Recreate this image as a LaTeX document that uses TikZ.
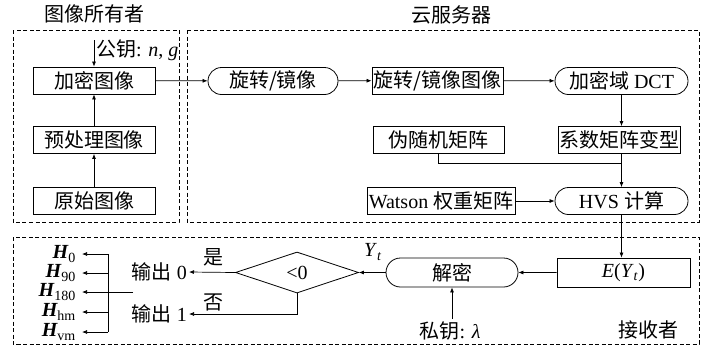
\documentclass[tikz,border=0pt]{standalone}
\usepackage{fontspec}
\setmainfont{Liberation Serif}
\newfontfamily\cjk{Noto Sans CJK SC}
\usetikzlibrary{arrows.meta,shapes.geometric,shapes.misc}
\begin{document}
\begin{tikzpicture}[x=1pt,y=-1pt,
  box/.style={draw, line width=0.8pt, minimum height=27pt, inner sep=0pt, font=\fontsize{20}{22}\selectfont},
  rbox/.style={box, rounded rectangle},
  dbox/.style={draw, dash pattern=on 4pt off 2.5pt, line width=0.7pt},
  arr/.style={-{Latex[length=5pt,width=4pt]}, line width=0.7pt},
  ln/.style={line width=0.7pt},
  lbl/.style={font=\fontsize{20}{22}\selectfont, inner sep=0pt},
  hl/.style={font=\fontsize{20}{22}\selectfont, inner sep=0pt, anchor=east}]
\useasboundingbox (0,0) rectangle (702,349);

% dashed regions
\draw[dbox] (13,30) rectangle (179,222);
\draw[dbox] (187,30) rectangle (699,222);
\draw[dbox] (13,237) rectangle (699,344);

% titles
\node[lbl] (t1) at (95,14) {\cjk 图像所有者};
\node[lbl] (t2) at (451,15) {\cjk 云服务器};

% image owner
\node[box, minimum width=122pt] (enc) at (94,80.5) {\cjk 加密图像};
\node[box, minimum width=122pt] (pre) at (94,140) {\cjk 预处理图像};
\node[box, minimum width=122pt] (orig) at (94,200.5) {\cjk 原始图像};
\coordinate (pk) at (94,40);
\node[lbl, anchor=west] (pkl) at (96,50) {{\cjk 公钥}: \textit{n}, \textit{g}};
\draw[arr] (pk) -- (enc);
\draw[arr] (orig) -- (pre);
\draw[arr] (pre) -- (enc);

% cloud server
\node[rbox, minimum width=130pt] (rot) at (273,81) {\cjk 旋转/镜像};
\node[box, minimum width=131pt] (rimg) at (437.5,80.5) {\cjk 旋转/镜像图像};
\node[rbox, minimum width=133pt] (dct) at (621.5,81) {{\cjk 加密域} DCT};
\node[box, minimum width=122pt] (coef) at (619,140) {\cjk 系数矩阵变型};
\node[box, minimum width=131pt] (prm) at (438.5,140) {\cjk 伪随机矩阵};
\node[rbox, minimum width=133pt] (hvs) at (621.5,201) {HVS {\cjk 计算}};
\node[box, minimum width=148pt] (wat) at (441,201) {Watson {\cjk 权重矩阵}};
\coordinate (jn) at (621.5,163);

\draw[arr] (enc) -- (rot);
\draw[arr] (rot) -- (rimg);
\draw[arr] (rimg) -- (dct);
\draw[arr] (dct) -- (dct |- coef.north);
\draw[arr] (coef.south -| hvs) -- (hvs);
\draw[ln] (prm.south) |- (jn);
\draw[arr] (wat) -- (hvs);

% receiver
\node[box, minimum width=133pt, minimum height=29pt] (ey) at (623.5,272.5) {\textit{E}(\textit{Y}\textsubscript{\textit{t}})};
\node[rbox, minimum width=132pt, minimum height=29pt] (dec) at (452,272.5) {\cjk 解密};
\draw[arr] (hvs) -- (hvs |- ey.north);
\draw[arr] (ey) -- (dec);
\node[lbl] (sk) at (450,331) {{\cjk 私钥}: \textit{λ}};
\draw[arr] (dec.south |- sk.north) ++(0,-3) -- (dec.south);
\node[lbl] (rcv) at (648,330) {\cjk 接收者};

\node[diamond, draw, line width=0.8pt, aspect=3, minimum width=123pt, minimum height=41pt, inner sep=0pt, font=\fontsize{20}{22}\selectfont] (dia) at (297,272.5) {<0};
\draw[arr] (dec) -- (dia);
\node[lbl] (yt) at (373,252) {\textit{Y}\textsubscript{\textit{t}}};

\node[hl] (o0) at (187,272) {{\cjk 输出} 0};
\node[hl] (o1) at (187,314) {{\cjk 输出} 1};
\node[lbl] (yes) at (213,257) {\cjk 是};
\node[lbl] (no) at (213,302) {\cjk 否};
\draw[arr] (dia.west) -- ([xshift=2pt]o0.east);
\draw[arr] (dia.south) |- ([xshift=2pt]o1.east);

% H outputs
\node[hl] (h0) at (76,254) {{\bfseries\itshape H}\textsubscript{0}};
\node[hl] (h90) at (76,273) {{\bfseries\itshape H}\textsubscript{90}};
\node[hl] (h180) at (76,292) {{\bfseries\itshape H}\textsubscript{180}};
\node[hl] (hhm) at (76,312) {{\bfseries\itshape H}\textsubscript{hm}};
\node[hl] (hvm) at (76,332) {{\bfseries\itshape H}\textsubscript{vm}};
\coordinate (vt) at (108,254);
\coordinate (vb) at (108,332);
\coordinate (hs) at (133,292);
\draw[ln] (vt) -- (vb);
\draw[arr] (vt) -- ([xshift=6pt]h0.east);
\draw[arr] (vt |- h90) -- ([xshift=6pt]h90.east);
\draw[arr] (hs) -- ([xshift=6pt]h180.east);
\draw[arr] (vt |- hhm) -- ([xshift=6pt]hhm.east);
\draw[arr] (vb) -- ([xshift=6pt]hvm.east);
\end{tikzpicture}
\end{document}
